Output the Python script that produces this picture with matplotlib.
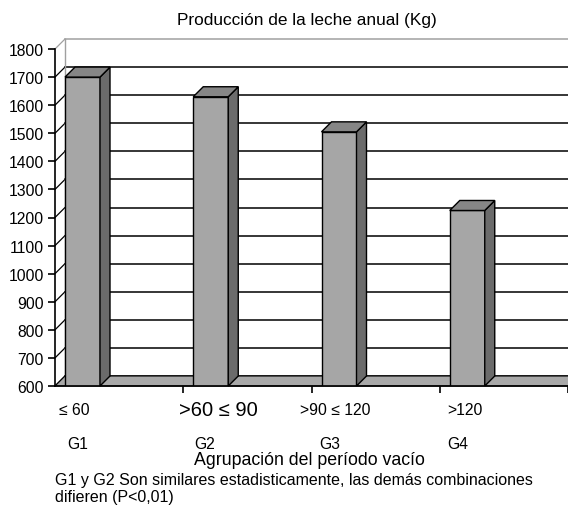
import matplotlib.pyplot as plt
from matplotlib.patches import Polygon
import numpy as np

# data
grupos = ["G1", "G2", "G3", "G4"]
rangos = ["\u2264 60", ">60 \u2264 90", ">90 \u2264 120", ">120"]
leche = [1700, 1630, 1505, 1225]
yticks = list(range(600, 1900, 100))

plt.rcParams['font.family'] = ['Liberation Sans', 'DejaVu Sans']

W, H = 568, 506
fig = plt.figure(figsize=(W / 100, H / 100), dpi=100)
# axes box in pixels: x 55..568, y 50..387
ax = fig.add_axes([55 / W, 1 - 387 / H, 513 / W, 337 / H])
ax.set_xlim(0, 4)
ax.set_ylim(600, 1800)

px_x = 4 / 513.0
px_y = 1200 / 337.0
dx = 10 * px_x
dy = 10 * px_y

# side wall diagonals + back wall gridlines
for t in yticks:
    col = '#a0a0a0' if t == 1800 else 'black'
    ax.plot([0, dx], [t, t + dy], color=col, lw=0.9, clip_on=False, zorder=1)
    ax.plot([dx, 4 + dx], [t + dy, t + dy], color=col, lw=1.1, clip_on=False, zorder=1)
ax.plot([dx, dx], [600 + dy, 1800 + dy], color='#a0a0a0', lw=1, clip_on=False, zorder=1)

# floor
floor = Polygon([(0, 600), (4 + dx, 600), (4 + 2 * dx, 600 + dy), (dx, 600 + dy)],
                closed=True, facecolor='#a8a8a8', edgecolor='black', lw=0.8,
                clip_on=False, zorder=2)
ax.add_patch(floor)

bw = 35 * px_x
x0 = np.arange(4) + dx
for x, v in zip(x0, leche):
    ax.bar(x, v - 600, bottom=600, width=bw, align='edge', color='#a6a6a6',
           edgecolor='black', lw=1, zorder=3)
    side = Polygon([(x + bw, 600), (x + bw + dx, 600 + dy), (x + bw + dx, v + dy), (x + bw, v)],
                   closed=True, facecolor='#6b6b6b', edgecolor='black', lw=1,
                   clip_on=False, zorder=3)
    top = Polygon([(x, v), (x + dx, v + dy), (x + bw + dx, v + dy), (x + bw, v)],
                  closed=True, facecolor='#868686', edgecolor='black', lw=1,
                  clip_on=False, zorder=3)
    ax.add_patch(side)
    ax.add_patch(top)

for s in ['top', 'right']:
    ax.spines[s].set_visible(False)
ax.spines['left'].set_linewidth(1.2)
ax.spines['bottom'].set_linewidth(1.2)
ax.spines['left'].set_zorder(4)
ax.spines['bottom'].set_zorder(4)
ax.set_yticks(yticks)
ax.set_xticks([1, 2, 3, 4])
ax.set_xticklabels([])
ax.tick_params(axis='y', direction='out', length=5, width=1.2, labelsize=11.3, pad=3)
ax.tick_params(axis='x', direction='out', length=5, width=1.2)
ax.set_facecolor('none')


def ft(x, y, s, **kw):
    fig.text(x / W, 1 - y / H, s, ha='center', va='center', **kw)


ft(307, 20, "Producción de la leche anual (Kg)", fontsize=12.4)

# range labels and group labels
rx = [74, 218, 335, 465]
rs = [11.3, 14.5, 11.3, 11.3]
for r, x, s in zip(rangos, rx, rs):
    ft(x, 411, r, fontsize=s)
gx = [78, 205, 330, 458]
for g, x in zip(grupos, gx):
    ft(x, 445, g, fontsize=11.3)

ft(309, 461, "Agrupación del período vacío", fontsize=12.8)
fig.text(55 / W, 1 - 481 / H, "G1 y G2 Son similares estadisticamente, las demás combinaciones",
         ha='left', va='center', fontsize=11.5)
fig.text(55 / W, 1 - 498 / H, "difieren (P<0,01)", ha='left', va='center', fontsize=11.5)

fig.savefig("out.png", dpi=100)
